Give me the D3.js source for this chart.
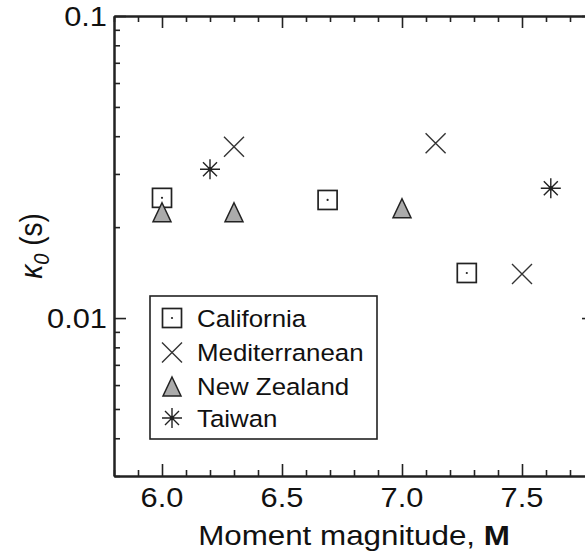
<!DOCTYPE html>
<html><head><meta charset="utf-8">
<script src="https://cdn.jsdelivr.net/npm/d3@7"></script>
<style>body{margin:0;background:#fff}svg{display:block}</style>
</head><body><div id="c"></div>
<script>
// ---- data ----
const seriesNames = ["California", "Mediterranean", "New Zealand", "Taiwan"];
const caM = [6.0, 6.69, 7.27];
const caK = [0.0250, 0.0246, 0.0141];
const meM = [6.3, 7.14, 7.50];
const meK = [0.0369, 0.0379, 0.0140];
const nzM = [6.0, 6.3, 7.0];
const nzK = [0.0224, 0.0224, 0.0231];
const twM = [6.2, 7.62];
const twK = [0.0311, 0.0269];
const xTicks = [6.0, 6.5, 7.0, 7.5];
const xTickLabels = ["6.0", "6.5", "7.0", "7.5"];
const yTicks = [0.01, 0.1];
const yTickLabels = ["0.01", "0.1"];

const W = 585, H = 554;
const FONT = "'Liberation Sans', Arial, sans-serif";
const SX = 1.1; // horizontal text stretch seen in reference
const ink = "#222";

const svg = d3.select("#c").append("svg").attr("width", W).attr("height", H);
const x = d3.scaleLinear().domain([5.8, 7.8]).range([114, 594]);
const y = d3.scaleLog().domain([0.003, 0.1]).range([476, 16]);

const xMinor = d3.range(58, 79).map(v => v / 10).filter(v => !xTicks.some(t => Math.abs(t - v) < 1e-9));
const yMinor = [];
[0.001, 0.01].forEach(d => { for (let k = 2; k <= 9; k++) { const v = d * k; if (v >= 0.003 && v < 0.1 + 1e-12) yMinor.push(v); } });

function axisGroup(axis, tf) {
  const g = svg.append("g").attr("transform", tf).call(axis);
  g.selectAll("text").remove();
  g.select(".domain").attr("stroke", ink).attr("stroke-width", 2);
  g.selectAll(".tick line").attr("stroke", ink).attr("stroke-width", 1.6);
  return g;
}
const [x0, x1] = x.range(), [y0, y1] = y.range();
// bottom
axisGroup(d3.axisBottom(x).tickValues(xTicks).tickSizeInner(-12).tickSizeOuter(0), `translate(0,${y0})`);
axisGroup(d3.axisBottom(x).tickValues(xMinor).tickSizeInner(-6).tickSizeOuter(0), `translate(0,${y0})`);
// top
axisGroup(d3.axisTop(x).tickValues(xTicks).tickSizeInner(-12).tickSizeOuter(0), `translate(0,${y1})`);
axisGroup(d3.axisTop(x).tickValues(xMinor).tickSizeInner(-6).tickSizeOuter(0), `translate(0,${y1})`);
// left
axisGroup(d3.axisLeft(y).tickValues(yTicks).tickSizeInner(-12).tickSizeOuter(0), `translate(${x0},0)`);
axisGroup(d3.axisLeft(y).tickValues(yMinor).tickSizeInner(-6).tickSizeOuter(0), `translate(${x0},0)`);
// right
axisGroup(d3.axisRight(y).tickValues(yTicks).tickSizeInner(-12).tickSizeOuter(0), `translate(${x1},0)`);
axisGroup(d3.axisRight(y).tickValues(yMinor).tickSizeInner(-6).tickSizeOuter(0), `translate(${x1},0)`);

function label(px, py, str, size, anchor, extra) {
  const t = svg.append("text")
    .attr("transform", `translate(${px},${py}) scale(${SX},1)` + (extra || ""))
    .attr("font-family", FONT).attr("font-size", size)
    .attr("text-anchor", anchor).attr("fill", "#111");
  if (str !== null) t.text(str);
  return t;
}
xTicks.forEach((v, i) => label(x(v), 507, xTickLabels[i], 28, "middle"));
yTicks.forEach((v, i) => label(107, y(v) + 10, yTickLabels[i], 28, "end"));

// x title
const xt = label(354, 545, null, 28.5, "middle");
xt.append("tspan").text("Moment magnitude, ");
xt.append("tspan").attr("font-weight", "bold").text("M");

// y title
const yt = label(42, 246, null, 28, "middle", " rotate(-90)");
yt.append("tspan").attr("font-style", "italic").text("κ");
yt.append("tspan").attr("font-style", "italic").attr("font-size", 20).attr("dy", 6).text("0");
yt.append("tspan").attr("dy", -6).text(" (s)");

// ---- markers ----
function drawMarker(g, type) {
  if (type === 0) {
    g.append("rect").attr("x", -9.5).attr("y", -9.5).attr("width", 19).attr("height", 19)
      .attr("fill", "none").attr("stroke", ink).attr("stroke-width", 1.7);
    g.append("circle").attr("r", 1.1).attr("fill", ink);
  } else if (type === 1) {
    const r = 10;
    g.append("path").attr("d", `M${-r},${-r}L${r},${r}M${-r},${r}L${r},${-r}`)
      .attr("stroke", "#333").attr("stroke-width", 1.4).attr("fill", "none");
  } else if (type === 2) {
    const w = 9, h = 9.5;
    g.append("path").attr("d", `M0,${-h}L${w},${h}L${-w},${h}Z`)
      .attr("fill", "#ababab").attr("stroke", ink).attr("stroke-width", 1.5).attr("stroke-linejoin", "miter");
  } else {
    const r = 10, d = 7;
    g.append("path").attr("d", `M0,${-r}L0,${r}M${-r},0L${r},0M${-d},${-d}L${d},${d}M${-d},${d}L${d},${-d}`)
      .attr("stroke", ink).attr("stroke-width", 1.4).attr("fill", "none");
    g.append("circle").attr("r", 2.2).attr("fill", ink);
  }
}
const series = [[caM, caK], [meM, meK], [nzM, nzK], [twM, twK]];
const plot = svg.append("g");
series.forEach(([ms, ks], si) => {
  ms.forEach((m, i) => {
    const g = plot.append("g").attr("transform", `translate(${x(m)},${y(ks[i])})`);
    drawMarker(g, si);
  });
});

// ---- legend ----
svg.append("rect").attr("x", 150).attr("y", 296).attr("width", 227).attr("height", 143)
  .attr("fill", "#fff").attr("stroke", ink).attr("stroke-width", 1.6);
const rowsY = [318, 352.5, 386.5, 418];
seriesNames.forEach((n, i) => {
  const g = svg.append("g").attr("transform", `translate(172,${rowsY[i]})`);
  drawMarker(g, i);
  label(197, rowsY[i] + 8.5, n, 23.5, "start");
});
</script></body></html>
